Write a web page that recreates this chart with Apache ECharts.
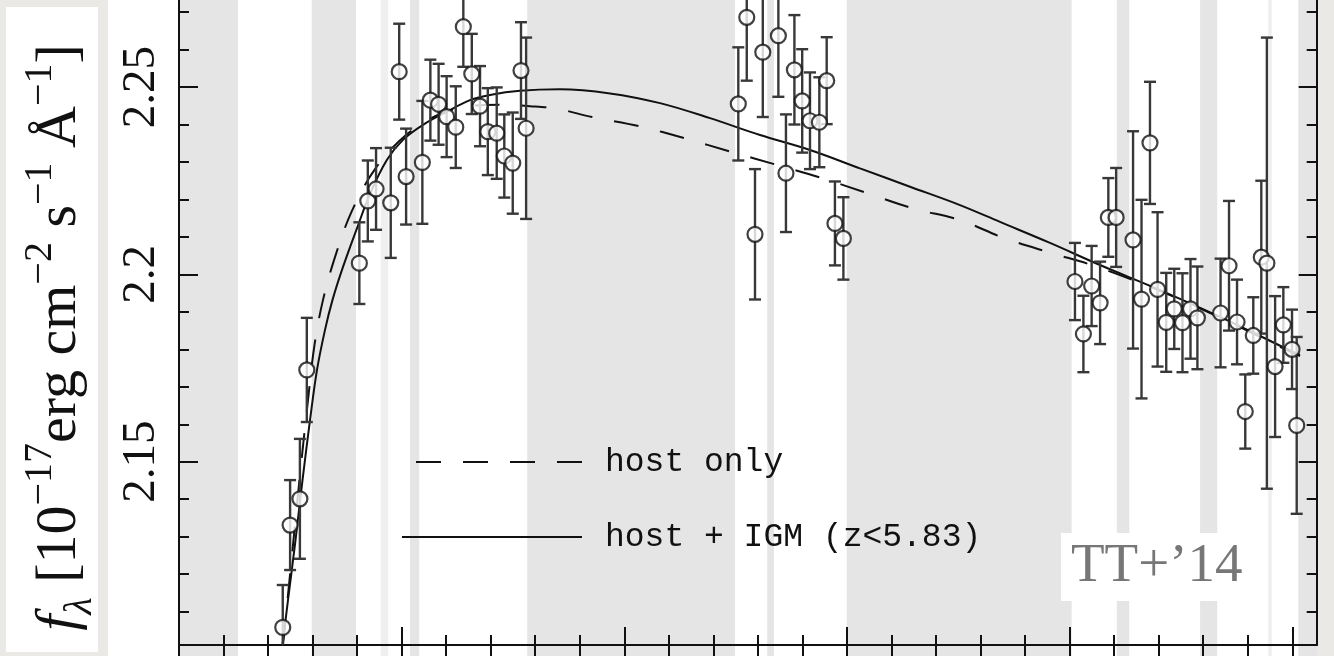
<!DOCTYPE html>
<html>
<head>
<meta charset="utf-8">
<script src="https://cdn.jsdelivr.net/npm/echarts@6/dist/echarts.min.js"></script>
<style>
  html, body { margin: 0; padding: 0; background: #ebe9e5; }
  #chart { width: 1334px; height: 656px; }
</style>
</head>
<body>
<div id="chart"></div>
<script>
// Photometric points: position along the wavelength axis (one major tick = 1 unit),
// flux density in 1e-17 erg/cm^2/s/A, and its 1-sigma error.
const wave = [
  0.466, 0.499, 0.543, 0.574, 0.810, 0.848, 0.885, 0.951, 0.989, 1.020,
  1.093, 1.129, 1.166, 1.202, 1.243, 1.277, 1.315, 1.352, 1.387, 1.427,
  1.461, 1.499, 1.536, 1.559, 2.512, 2.550, 2.587, 2.622, 2.692, 2.726,
  2.764, 2.799, 2.834, 2.876, 2.909, 2.946, 2.984, 4.024, 4.062, 4.099,
  4.137, 4.174, 4.209, 4.285, 4.323, 4.361, 4.395, 4.434, 4.470, 4.507,
  4.543, 4.574, 4.678, 4.716, 4.752, 4.789, 4.825, 4.861, 4.886, 4.923,
  4.960, 4.999, 5.020
];
const flux = [
  2.1058, 2.1331, 2.1401, 2.1745, 2.2030, 2.2196, 2.2228, 2.2191, 2.2541, 2.2261,
  2.2299, 2.2465, 2.2454, 2.2421, 2.2393, 2.2661, 2.2535, 2.2449, 2.2381, 2.2377,
  2.2316, 2.2297, 2.2544, 2.2390, 2.2455, 2.2686, 2.2107, 2.2593, 2.2637, 2.2270,
  2.2546, 2.2463, 2.2410, 2.2406, 2.2517, 2.2136, 2.2096, 2.1981, 2.1841, 2.1969,
  2.1924, 2.2152, 2.2152, 2.2092, 2.1934, 2.2351, 2.1960, 2.1872, 2.1908, 2.1871,
  2.1908, 2.1884, 2.1897, 2.2023, 2.1873, 2.1634, 2.1837, 2.2046, 2.2030, 2.1754,
  2.1865, 2.1800, 2.1597
];
const fluxErr = [
  0.0113, 0.0120, 0.0160, 0.0139, 0.0109, 0.0108, 0.0109, 0.0147, 0.0128, 0.0128,
  0.0164, 0.0108, 0.0108, 0.0108, 0.0109, 0.0107, 0.0107, 0.0107, 0.0116, 0.0122,
  0.0111, 0.0135, 0.0129, 0.0242, 0.0151, 0.0169, 0.0174, 0.0173, 0.0163, 0.0157,
  0.0146, 0.0138, 0.0129, 0.0120, 0.0116, 0.0112, 0.0110, 0.0103, 0.0102, 0.0107,
  0.0110, 0.0105, 0.0132, 0.0290, 0.0265, 0.0163, 0.0206, 0.0132, 0.0107, 0.0132,
  0.0133, 0.0137, 0.0145, 0.0173, 0.0113, 0.0099, 0.0102, 0.0204, 0.0602, 0.0188,
  0.0101, 0.0106, 0.0236
];

// Model spectrum of the host galaxy alone
const hostOnlyX = [
  0.4671, 0.5053, 0.5457, 0.5795, 0.6086, 0.6468, 0.7006, 0.7747, 0.8803, 1.0195,
  1.1722, 1.3070, 1.4417, 1.5765, 1.6977, 1.8549, 2.0705, 2.2726, 2.4747, 2.6858,
  2.8924, 3.0945, 3.2966, 3.5077, 3.7054, 3.9119, 4.1140, 4.4060, 4.7069, 5.0034,
  5.0348
];
const hostOnlyY = [
  2.1011, 2.1238, 2.1478, 2.1665, 2.1812, 2.1932, 2.2046, 2.2167, 2.2281, 2.2372,
  2.2428, 2.2449, 2.2453, 2.2449, 2.2442, 2.2420, 2.2395, 2.2363, 2.2328, 2.2292,
  2.2256, 2.2216, 2.2176, 2.2145, 2.2097, 2.2058, 2.2022, 2.1956, 2.1876, 2.1790,
  2.1782
];

// Host galaxy model attenuated by the IGM (z < 5.83)
const hostIgmX = [
  0.4649, 0.4896, 0.5233, 0.5547, 0.5884, 0.6198, 0.6558, 0.6895, 0.7366, 0.8017,
  0.8601, 0.9342, 1.0061, 1.0959, 1.2023, 1.3070, 1.3968, 1.5315, 1.7112, 1.9358,
  2.1603, 2.3849, 2.6095, 2.8340, 3.0586, 3.2832, 3.5077, 3.6874, 3.9119, 4.1365,
  4.4060, 4.7069, 5.0034, 5.0348
];
const hostIgmY = [
  2.1011, 2.1131, 2.1291, 2.1451, 2.1611, 2.1745, 2.1852, 2.1932, 2.2020, 2.2127,
  2.2218, 2.2306, 2.2359, 2.2399, 2.2434, 2.2465, 2.2479, 2.2490, 2.2494, 2.2483,
  2.2457, 2.2417, 2.2372, 2.2332, 2.2283, 2.2234, 2.2185, 2.2140, 2.2084, 2.2025,
  2.1958, 2.1878, 2.1793, 2.1785
];

// Masked wavelength ranges (start, end)
const maskedBands = [
  [0, 0.265], [0.596, 0.795], [1.0375, 1.079], [1.564, 2.497], [2.642, 2.672],
  [2.999, 4.009], [4.212, 4.268], [4.586, 4.663], [5.027, 5.115]
];
const faintBands = [[0.906, 0.940], [4.892, 4.908]];

// Axis ranges and tick values
const X_MIN = 0, X_MAX = 5.1098;
const Y_MIN = 2.10109, Y_MAX = 2.27323;
const xMajorTicks = [0, 1, 2, 3, 4, 5];
const yMajorTicks = [2.15, 2.2, 2.25];

const seriesNames = ['host only', 'host + IGM (z<5.83)'];

// minor ticks: every 0.2 on x, every 0.01 on y
const xMinorTicks = [];
for (let i = 1; i * 0.2 < X_MAX; i++) { if (i % 5) xMinorTicks.push(+(i * 0.2).toFixed(2)); }
const yMinorTicks = [];
for (let i = 211; i <= 227; i++) { if (i % 5) yMinorTicks.push(i / 100); }

const INK = '#111111';
const BAR = '#383838';
const BAND = '#e5e5e5';
const BAND_FAINT = '#efefef';

const points = wave.map((x, i) => [x, flux[i], fluxErr[i]]);
const hostOnly = hostOnlyX.map((x, i) => [x, hostOnlyY[i]]);
const hostIgm = hostIgmX.map((x, i) => [x, hostIgmY[i]]);

function bandRenderer(fill) {
  return function (params, api) {
    const cs = params.coordSys;
    const a = api.coord([api.value(0), api.value(2)]);
    const b = api.coord([api.value(1), api.value(2)]);
    return { type: 'rect', shape: { x: a[0], y: cs.y, width: b[0] - a[0], height: cs.height },
             style: { fill: fill } };
  };
}
const bandRows = (list, yRef) => list.map(b => [b[0], b[1], yRef]);

const tickStyle = { color: INK, width: 2 };

function xAxisDef(grid, pos, ticks, len, line) {
  return {
    type: 'value', gridIndex: grid, position: pos, min: X_MIN, max: X_MAX,
    axisLine: { show: line, onZero: false, lineStyle: { color: INK, width: 2 } },
    axisTick: { show: true, inside: true, length: len, customValues: ticks, lineStyle: tickStyle },
    axisLabel: { show: false }, splitLine: { show: false }
  };
}
function yAxisDef(pos, ticks, len, line, labels) {
  return {
    type: 'value', gridIndex: 0, position: pos, min: Y_MIN, max: Y_MAX,
    axisLine: { show: line, onZero: false, lineStyle: { color: INK, width: 2 } },
    axisTick: { show: true, inside: true, length: len, customValues: ticks, lineStyle: tickStyle },
    axisLabel: labels ? {
      show: true, customValues: yMajorTicks, rotate: 90, margin: 14,
      fontFamily: 'Liberation Serif', fontSize: 47, color: INK
    } : { show: false },
    splitLine: { show: false }
  };
}

const chart = echarts.init(document.getElementById('chart'), null, { renderer: 'canvas' });

chart.setOption({
  backgroundColor: '#ebe9e5',
  animation: false,
  grid: [
    { left: 179, right: 17.3, top: 0, bottom: 11, containLabel: false },
    { left: 179, right: 17.3, top: 645, bottom: 0, containLabel: false }
  ],
  xAxis: [
    xAxisDef(0, 'bottom', xMajorTicks, 18, true),
    xAxisDef(0, 'bottom', xMinorTicks, 10, false),
    xAxisDef(1, 'top', xMajorTicks, 12, false),
    xAxisDef(1, 'top', xMinorTicks, 12, false)
  ],
  yAxis: [
    yAxisDef('left', yMajorTicks, 19, true, true),
    yAxisDef('left', yMinorTicks, 10, false, false),
    yAxisDef('right', yMajorTicks, 18, true, false),
    yAxisDef('right', yMinorTicks, 10, false, false),
    { type: 'value', gridIndex: 1, position: 'left', min: 0, max: 1,
      axisLine: { show: true, lineStyle: { color: INK, width: 2 } },
      axisTick: { show: false }, axisLabel: { show: false }, splitLine: { show: false } },
    { type: 'value', gridIndex: 1, position: 'right', min: 0, max: 1,
      axisLine: { show: true, lineStyle: { color: INK, width: 2 } },
      axisTick: { show: false }, axisLabel: { show: false }, splitLine: { show: false } }
  ],
  legend: {
    left: 396, top: 437, orient: 'vertical', selectedMode: false,
    itemWidth: 180, itemHeight: 40, itemGap: 35,
    itemStyle: { opacity: 0 },
    textStyle: { fontFamily: 'Liberation Mono', fontSize: 33, color: INK, lineHeight: 40,
                 padding: [0, 0, 0, 18] },
    data: [
      { name: seriesNames[0], lineStyle: { dashOffset: 33 } },
      { name: seriesNames[1] }
    ]
  },
  graphic: [
    // white figure panel
    { type: 'rect', z: -10, silent: true,
      shape: { x: 108, y: 0, width: 1210, height: 656 }, style: { fill: '#ffffff' } },
    // y-axis title box
    { type: 'rect', z: 100, silent: true,
      shape: { x: 6, y: 7, width: 92, height: 645 }, style: { fill: '#ffffff' } },
    { type: 'text', z: 101, silent: true, x: 60, y: 337.5, rotation: Math.PI / 2,
      style: {
        text: '{f|f}{sub|λ}{m| [10}{sup|−17}{m|erg cm}{sup|−2}{m| s}{sup|−1}{m| Å}{sup|−1}{m|]}',
        align: 'center', verticalAlign: 'middle', fill: INK,
        rich: {
          m: { fontFamily: 'Liberation Serif', fontSize: 58, lineHeight: 80 },
          f: { fontFamily: 'Liberation Serif', fontStyle: 'italic', fontSize: 58, lineHeight: 80 },
          sup: { fontFamily: 'Liberation Serif', fontSize: 40, lineHeight: 40, verticalAlign: 'top' },
          sub: { fontFamily: 'Liberation Serif', fontStyle: 'italic', fontSize: 40, lineHeight: 56,
                 verticalAlign: 'bottom' }
        }
      } },
    // citation tag
    { type: 'rect', z: 100, silent: true,
      shape: { x: 1061, y: 533, width: 184, height: 68 }, style: { fill: '#ffffff' } },
    { type: 'text', z: 101, silent: true, x: 1071, y: 567,
      style: { text: 'TT+\u201914', fontFamily: 'Liberation Serif', fontSize: 55, fill: '#777777',
               align: 'left', verticalAlign: 'middle' } }
  ],
  series: [
    { type: 'custom', name: 'masked', xAxisIndex: 0, yAxisIndex: 0, z: 0, silent: true,
      renderItem: bandRenderer(BAND), data: bandRows(maskedBands, 2.2), encode: { x: [0, 1], y: 2 } },
    { type: 'custom', name: 'masked-faint', xAxisIndex: 0, yAxisIndex: 0, z: 0, silent: true,
      renderItem: bandRenderer(BAND_FAINT), data: bandRows(faintBands, 2.2), encode: { x: [0, 1], y: 2 } },
    { type: 'custom', name: 'masked-below', xAxisIndex: 2, yAxisIndex: 4, z: 0, silent: true,
      renderItem: bandRenderer(BAND), data: bandRows(maskedBands, 0.5), encode: { x: [0, 1], y: 2 } },
    { type: 'custom', name: 'masked-below-faint', xAxisIndex: 2, yAxisIndex: 4, z: 0, silent: true,
      renderItem: bandRenderer(BAND_FAINT), data: bandRows(faintBands, 0.5), encode: { x: [0, 1], y: 2 } },
    { type: 'line', name: seriesNames[0], xAxisIndex: 0, yAxisIndex: 0, z: 3,
      data: hostOnly, smooth: 0.35, showSymbol: false, symbol: 'none',
      lineStyle: { color: INK, width: 2, type: [25, 22] }, itemStyle: { color: INK } },
    { type: 'line', name: seriesNames[1], xAxisIndex: 0, yAxisIndex: 0, z: 3,
      data: hostIgm, smooth: 0.35, showSymbol: false, symbol: 'none',
      lineStyle: { color: INK, width: 2 }, itemStyle: { color: INK } },
    { type: 'custom', name: 'errors', xAxisIndex: 0, yAxisIndex: 0, z: 4, clip: true, silent: true,
      data: points, encode: { x: 0, y: 1 },
      renderItem: function (params, api) {
        const x = api.value(0), y = api.value(1), e = api.value(2);
        const t = api.coord([x, y + e]), b = api.coord([x, y - e]);
        const st = { stroke: BAR, lineWidth: 2.4 };
        return { type: 'group', children: [
          { type: 'line', shape: { x1: t[0], y1: t[1], x2: b[0], y2: b[1] }, style: st },
          { type: 'line', shape: { x1: t[0] - 6, y1: t[1], x2: t[0] + 6, y2: t[1] }, style: st },
          { type: 'line', shape: { x1: b[0] - 6, y1: b[1], x2: b[0] + 6, y2: b[1] }, style: st }
        ] };
      } },
    { type: 'scatter', name: 'points', xAxisIndex: 0, yAxisIndex: 0, z: 5, clip: true, silent: true,
      data: points.map(p => [p[0], p[1]]), symbol: 'circle', symbolSize: 15,
      itemStyle: { color: '#ffffff', borderColor: INK, borderWidth: 2.2 } }
  ]
});
</script>
</body>
</html>
